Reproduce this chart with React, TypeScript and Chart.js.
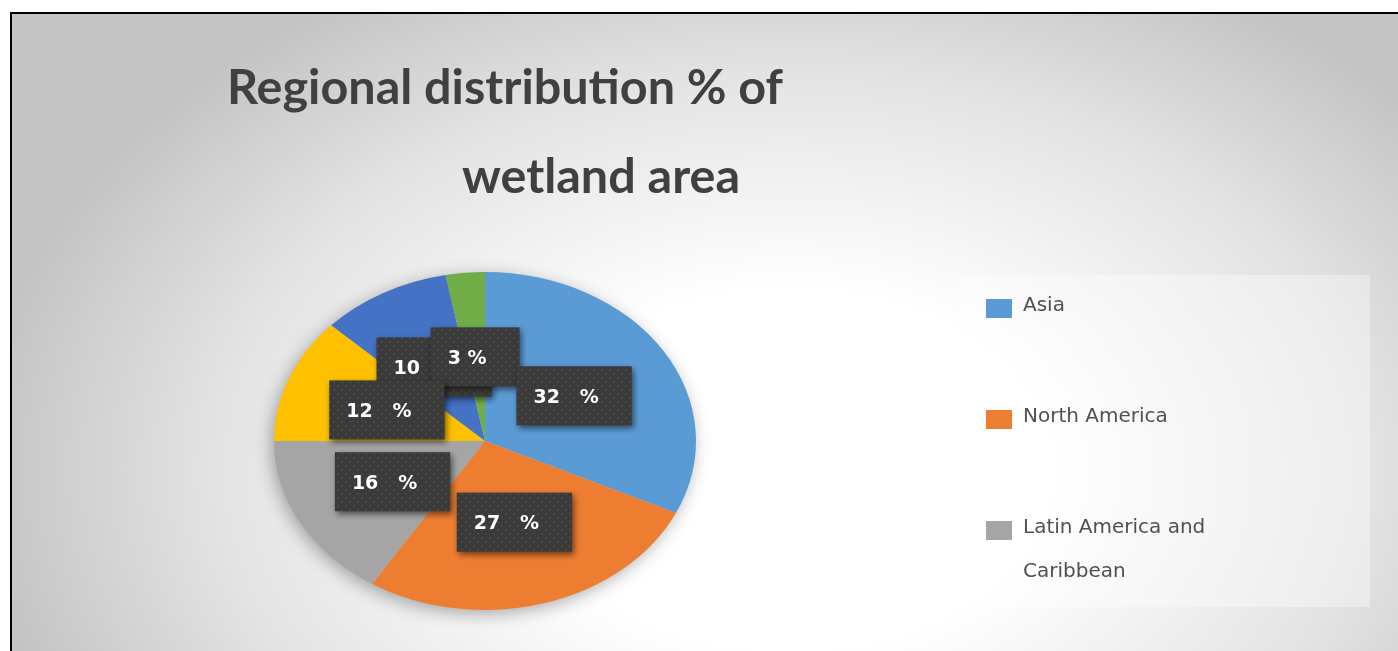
import React, { useEffect, useRef } from "react";
import { Chart, registerables } from "chart.js";

Chart.register(...registerables);

// ---- data ----
const categories = [
  "Asia",
  "North America",
  "Latin America and Caribbean",
  "Europe",
  "Africa",
  "Oceania",
];
const shares = [32, 27, 16, 12, 10, 3];
const sliceColors = ["#5B9BD5", "#ED7D31", "#A5A5A5", "#FFC000", "#4472C4", "#70AD47"];
const titleLines = ["Regional distribution % of", "wetland area"];
const legendShownCount = 3;

// ---- styling / layout constants ----
const W = 1398;
const H = 651;
const PIE_SX = 211 / 169; // horizontal stretch of the pie (elliptical look)
const LABEL_ORDER = [4, 5, 3, 2, 1, 0];

function makePattern(ctx: CanvasRenderingContext2D) {
  const c = document.createElement("canvas");
  c.width = 8;
  c.height = 8;
  const p = c.getContext("2d")!;
  p.fillStyle = "#3a3a3a";
  p.fillRect(0, 0, 8, 8);
  p.fillStyle = "#4a4641";
  p.fillRect(1, 1, 2, 2);
  p.fillRect(5, 5, 2, 2);
  return ctx.createPattern(c, "repeat");
}

function wrapText(ctx: CanvasRenderingContext2D, text: string, maxW: number) {
  const words = text.split(" ");
  const lines: string[] = [];
  let cur = "";
  for (const w of words) {
    const test = cur ? cur + " " + w : w;
    if (ctx.measureText(test).width > maxW && cur) {
      lines.push(cur);
      cur = w;
    } else cur = test;
  }
  if (cur) lines.push(cur);
  return lines;
}

const drawPlugin = {
  id: "customDraw",
  beforeDraw(chart: any) {
    const ctx: CanvasRenderingContext2D = chart.ctx;
    ctx.save();
    ctx.fillStyle = "#ffffff";
    ctx.fillRect(0, 0, W, H);
    // elliptical radial gradient background
    ctx.save();
    ctx.beginPath();
    ctx.rect(11, 13, W - 11, H - 13);
    ctx.clip();
    ctx.translate(790, 470);
    ctx.scale(1.45, 1);
    const g = ctx.createRadialGradient(0, 0, 0, 0, 0, 560);
    g.addColorStop(0, "#ffffff");
    g.addColorStop(0.32, "#ffffff");
    g.addColorStop(0.7, "#e4e4e4");
    g.addColorStop(1, "#c4c4c4");
    ctx.fillStyle = g;
    ctx.fillRect(-800, -700, 1600, 1400);
    ctx.restore();
    // frame
    ctx.fillStyle = "#000000";
    ctx.fillRect(10, 12, W - 10, 2);
    ctx.fillRect(10, 12, 2, H - 12);

    // title
    ctx.fillStyle = "#404040";
    ctx.textAlign = "center";
    ctx.textBaseline = "alphabetic";
    ctx.font = "bold 100px Lato";
    const m = ctx.measureText(titleLines[0]).width;
    const size = (100 * 556) / m;
    ctx.font = `bold ${size.toFixed(1)}px Lato`;
    ctx.fillText(titleLines[0], 505, 104);
    ctx.fillText(titleLines[1], 601, 193);

    // legend
    ctx.fillStyle = "rgba(255,255,255,0.35)";
    ctx.fillRect(962, 275, 408, 332);
    ctx.font = "20px 'DejaVu Sans'";
    ctx.textAlign = "left";
    let baseline = 311;
    for (let i = 0; i < legendShownCount; i++) {
      const lines = wrapText(ctx, categories[i], 230);
      ctx.fillStyle = sliceColors[i];
      ctx.fillRect(986, baseline - 12, 26, 19);
      ctx.fillStyle = "#505050";
      lines.forEach((ln, k) => ctx.fillText(ln, 1023, baseline + k * 44));
      baseline += 111 + (lines.length - 1) * 44;
    }
    ctx.restore();
  },
  beforeDatasetsDraw(chart: any) {
    const ctx: CanvasRenderingContext2D = chart.ctx;
    const arc = chart.getDatasetMeta(0).data[0];
    const cx = arc.x;
    const cy = arc.y;
    const r = arc.outerRadius;
    // soft shadow under the pie
    ctx.save();
    ctx.shadowColor = "rgba(0,0,0,0.35)";
    ctx.shadowBlur = 18;
    ctx.shadowOffsetX = -3;
    ctx.shadowOffsetY = 4;
    ctx.fillStyle = "#cccccc";
    ctx.beginPath();
    ctx.ellipse(cx, cy, r * PIE_SX - 1, r - 1, 0, 0, Math.PI * 2);
    ctx.fill();
    ctx.restore();
    ctx.save();
    ctx.translate(cx, cy);
    ctx.scale(PIE_SX, 1);
    ctx.translate(-cx, -cy);
  },
  afterDatasetsDraw(chart: any) {
    const ctx: CanvasRenderingContext2D = chart.ctx;
    ctx.restore();
    const meta = chart.getDatasetMeta(0);
    const cx = meta.data[0].x;
    const pattern = makePattern(ctx);
    ctx.save();
    ctx.font = "bold 19px 'DejaVu Sans'";
    for (const i of LABEL_ORDER) {
      const el = meta.data[i];
      const pos = el.tooltipPosition(false);
      const ax = cx + (pos.x - cx) * PIE_SX;
      const ay = pos.y;
      const v = shares[i];
      const text = `${v}${v >= 10 ? "   " : " "}%`;
      const tw = ctx.measureText(text).width;
      const bw = tw + 50;
      const bh = 59;
      const bx = ax - bw / 2;
      const by = ay - bh / 2;
      ctx.save();
      ctx.shadowColor = "rgba(0,0,0,0.55)";
      ctx.shadowBlur = 6;
      ctx.shadowOffsetX = 2;
      ctx.shadowOffsetY = 3;
      ctx.fillStyle = pattern || "#3a3a3a";
      ctx.fillRect(bx, by, bw, bh);
      ctx.restore();
      ctx.fillStyle = "#ffffff";
      ctx.textAlign = "left";
      ctx.textBaseline = "alphabetic";
      ctx.fillText(text, bx + 17, ay + 7);
    }
    ctx.restore();
  },
};

export default function App() {
  const ref = useRef<HTMLCanvasElement>(null);
  useEffect(() => {
    const canvas = ref.current!;
    const chart = new Chart(canvas, {
      type: "pie",
      data: {
        labels: categories,
        datasets: [
          {
            data: shares,
            backgroundColor: sliceColors,
            borderWidth: 0,
            clip: false as any,
          },
        ],
      },
      options: {
        responsive: false,
        animation: false,
        events: [],
        layout: { padding: { left: 316, right: 744, top: 272, bottom: 41 } },
        plugins: {
          legend: { display: false },
          title: { display: false },
          tooltip: { enabled: false },
        },
      },
      plugins: [drawPlugin],
    });
    return () => chart.destroy();
  }, []);
  return (
    <div style={{ position: "fixed", left: 0, top: 0, width: W, height: H, background: "#fff" }}>
      <canvas ref={ref} width={W} height={H} style={{ display: "block", width: W, height: H }} />
    </div>
  );
}
